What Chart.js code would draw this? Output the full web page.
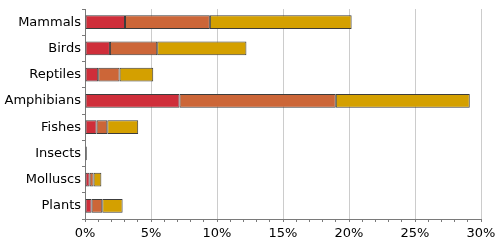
<!DOCTYPE html>
<html>
<head>
  <meta charset="UTF-8" />
  <title>Threatened species by group</title>
  <script src="https://cdn.jsdelivr.net/npm/chart.js"></script>
  <style>
    html, body { margin: 0; padding: 0; background: #fff; }
  </style>
</head>
<body>

<canvas id="threatChart" width="500" height="247"></canvas>

<script>
  // data (percent of species in each group)
  const groups = ['Mammals', 'Birds', 'Reptiles', 'Amphibians', 'Fishes', 'Insects', 'Molluscs', 'Plants'];
  const criticallyEndangered = [3.03, 1.89, 1.00, 7.16, 0.88, 0.05, 0.35, 0.50];
  const endangered           = [6.43, 3.58, 1.62, 11.84, 0.81, 0.04, 0.30, 0.81];
  const vulnerable           = [10.74, 6.76, 2.55, 10.15, 2.34, 0.06, 0.59, 1.54];
  const xTickValues = [0, 5, 10, 15, 20, 25, 30];

  const font = { family: 'DejaVu Sans', size: 13 };
  const outline = '#3c3c3c';

  function series(label, data, color) {
    return {
      label: label,
      data: data,
      // segments thinner than their outline show only the outline
      backgroundColor: (c) => (c.raw < 0.1 ? outline : color),
      borderColor: outline,
      borderWidth: 1,
      borderSkipped: false,
      categoryPercentage: 0.53,
      barPercentage: 1
    };
  }

  const ctx = document.getElementById('threatChart').getContext('2d');
  const chart = new Chart(ctx, {
    type: 'bar',
    data: {
      labels: groups,
      datasets: [
        series('Critically endangered', criticallyEndangered, '#cf2e3a'),
        series('Endangered', endangered, '#cc6638'),
        series('Vulnerable', vulnerable, '#d4a000')
      ]
    },
    options: {
      indexAxis: 'y',
      responsive: false,
      animation: false,
      layout: { padding: { top: 9, right: 19, left: 0, bottom: 0 } },
      plugins: {
        legend: { display: false },
        tooltip: { enabled: false }
      },
      scales: {
        x: {
          stacked: true,
          min: 0,
          max: 30,
          afterFit: (scale) => { scale.height = 28; },
          border: { color: '#7a7a7a', width: 1 },
          grid: {
            color: (c) => (c.tick && c.tick.value !== 0 && xTickValues.includes(c.tick.value)) ? '#cccccc' : 'rgba(0,0,0,0)',
            tickColor: '#7a7a7a',
            tickLength: 3,
            lineWidth: 1
          },
          ticks: {
            stepSize: 1,
            autoSkip: false,
            maxRotation: 0,
            padding: 4,
            color: '#000',
            font: font,
            callback: (v) => xTickValues.includes(v) ? v + '%' : ''
          }
        },
        y: {
          stacked: true,
          afterFit: (scale) => { scale.width = 85; },
          border: { color: '#7a7a7a', width: 1 },
          grid: {
            drawOnChartArea: false,
            tickColor: '#7a7a7a',
            tickLength: 3
          },
          ticks: {
            padding: 1,
            color: '#000',
            font: font
          }
        }
      }
    }
  });
</script>

</body>
</html>
